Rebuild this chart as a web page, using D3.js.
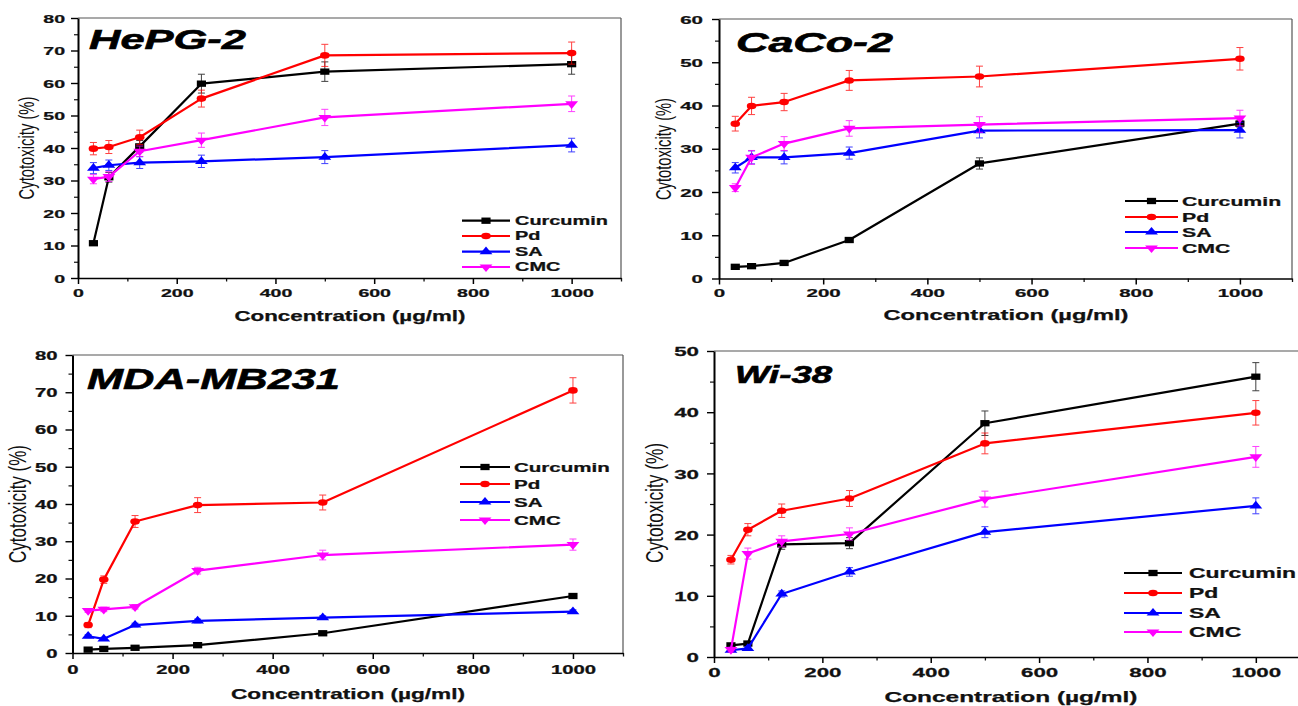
<!DOCTYPE html>
<html><head><meta charset="utf-8">
<script src="https://cdn.jsdelivr.net/npm/d3@7"></script>
<style>html,body{margin:0;padding:0;background:#fff;} svg{display:block;font-family:"Liberation Sans",Arial,sans-serif;}</style>
</head><body><svg id="c" width="1298" height="706"></svg>
<script>
// ---------- DATA ----------
const concentrations = [31.25, 62.5, 125, 250, 500, 1000];
const seriesNames = ["Curcumin", "Pd", "SA", "CMC"];
const panelTitles = ["HePG-2", "CaCo-2", "MDA-MB231", "Wi-38"];
const xTicks = [0, 200, 400, 600, 800, 1000];
const xMinorTicks = [100, 300, 500, 700, 900, 1100];
const yTicks80 = [0, 10, 20, 30, 40, 50, 60, 70, 80];
const yTicks60 = [0, 10, 20, 30, 40, 50, 60];
const yTicks50 = [0, 10, 20, 30, 40, 50];
const xAxisTitle = "Concentration (µg/ml)";
const yAxisTitle = "Cytotoxicity (%)";

// HePG-2
const hepCurcumin = [10.7, 31.0, 40.5, 59.8, 63.5, 65.8];
const hepCurcuminErr = [0.6, 1.5, 1.8, 2.9, 3.0, 3.1];
const hepPd = [39.8, 40.3, 43.3, 55.2, 68.5, 69.2];
const hepPdErr = [1.9, 2.0, 2.2, 2.6, 3.4, 3.4];
const hepSA = [33.8, 34.7, 35.5, 35.9, 37.2, 40.9];
const hepSAErr = [1.7, 1.6, 1.8, 1.9, 2.0, 2.1];
const hepCMC = [30.4, 31.2, 39.0, 42.4, 49.4, 53.6];
const hepCMCErr = [1.4, 1.5, 1.6, 2.2, 2.5, 2.4];

// CaCo-2
const cacoCurcumin = [2.7, 2.85, 3.6, 8.9, 26.6, 35.8];
const cacoCurcuminErr = [0.3, 0.3, 0.4, 0.5, 1.3, 0.8];
const cacoPd = [35.8, 39.9, 40.8, 45.8, 46.7, 50.8];
const cacoPdErr = [1.7, 2.0, 2.0, 2.3, 2.4, 2.6];
const cacoSA = [25.6, 28.0, 28.0, 29.0, 34.2, 34.3];
const cacoSAErr = [1.2, 1.5, 1.5, 1.4, 1.7, 1.8];
const cacoCMC = [21.0, 28.0, 31.2, 34.7, 35.6, 37.1];
const cacoCMCErr = [0.9, 1.6, 1.6, 1.8, 1.8, 1.8];

// MDA-MB231
const mdaCurcumin = [0.9, 1.1, 1.4, 2.1, 5.3, 15.3];
const mdaCurcuminErr = [0.3, 0.3, 0.3, 0.4, 0.4, 0.5];
const mdaPd = [7.5, 19.7, 35.3, 39.7, 40.4, 70.5];
const mdaPdErr = [0.7, 1.0, 1.6, 2.0, 2.0, 3.4];
const mdaSA = [4.5, 3.8, 7.5, 8.6, 9.5, 11.1];
const mdaSAErr = [0.4, 0.4, 0.5, 0.5, 0.5, 0.5];
const mdaCMC = [11.4, 11.7, 12.4, 22.1, 26.3, 29.1];
const mdaCMCErr = [0.5, 0.6, 0.6, 0.9, 1.3, 1.5];

// Wi-38
const wiCurcumin = [1.9, 2.2, 18.4, 18.6, 38.2, 45.8];
const wiCurcuminErr = [0.3, 0.3, 0.8, 0.9, 2.0, 2.3];
const wiPd = [15.9, 20.8, 23.9, 25.9, 34.9, 39.9];
const wiPdErr = [0.7, 1.0, 1.1, 1.3, 1.7, 2.0];
const wiSA = [1.1, 1.4, 10.3, 13.9, 20.4, 24.7];
const wiSAErr = [0.3, 0.3, 0.5, 0.7, 0.9, 1.3];
const wiCMC = [1.2, 16.9, 18.9, 20.1, 25.8, 32.7];
const wiCMCErr = [0.4, 0.9, 0.9, 1.0, 1.3, 1.7];

// ---------- STYLE / LAYOUT ----------
const seriesColors = ["#000000", "#ff0000", "#0000ff", "#ff00ff"];
const symbolTypes = [d3.symbolSquare, d3.symbolCircle, d3.symbolTriangle, d3.symbolTriangle];
const symbolRot = [0, 0, 0, 180];
const symbolSizes = [40, 34, 34, 34];
const MK = 1.45; // horizontal stretch of markers

const panels = [
  {title: panelTitles[0], yTicks: yTicks80, yMax: 80,
   values: [hepCurcumin, hepPd, hepSA, hepCMC], errors: [hepCurcuminErr, hepPdErr, hepSAErr, hepCMCErr]},
  {title: panelTitles[1], yTicks: yTicks60, yMax: 60,
   values: [cacoCurcumin, cacoPd, cacoSA, cacoCMC], errors: [cacoCurcuminErr, cacoPdErr, cacoSAErr, cacoCMCErr]},
  {title: panelTitles[2], yTicks: yTicks80, yMax: 80,
   values: [mdaCurcumin, mdaPd, mdaSA, mdaCMC], errors: [mdaCurcuminErr, mdaPdErr, mdaSAErr, mdaCMCErr]},
  {title: panelTitles[3], yTicks: yTicks50, yMax: 50,
   values: [wiCurcumin, wiPd, wiSA, wiCMC], errors: [wiCurcuminErr, wiPdErr, wiSAErr, wiCMCErr]}
];

const layout = [
  {left:78, right:621, top:18, bottom:278, tickFs:11.5, tickK:1.7, yGap:13, xLabOff:11,
   titleX:89, titleY:49, titleFs:27, titleW:157,
   yTitleX:26, yTitleY:148, yTitleFs:15, yTitleL:103, yTitleK:1.45,
   xTitleX:350, xTitleY:321, xTitleFs:14, xTitleW:231,
   legX0:462, legX1:510, legTextX:515, legY:[220.7,236,251.7,267], legFs:12, legK:1.66},
  {left:719, right:1292, top:19, bottom:278.5, tickFs:11.5, tickK:1.78, yGap:16, xLabOff:10,
   titleX:736, titleY:52, titleFs:27, titleW:157,
   yTitleX:663, yTitleY:149, yTitleFs:15, yTitleL:102, yTitleK:1.45,
   xTitleX:1006, xTitleY:320, xTitleFs:14.5, xTitleW:245,
   legX0:1125, legX1:1178, legTextX:1182, legY:[201,217,232,248], legFs:12.5, legK:1.7},
  {left:72.5, right:623, top:355, bottom:653, tickFs:12, tickK:1.69, yGap:15, xLabOff:12,
   titleX:87, titleY:389, titleFs:30, titleW:253,
   yTitleX:18, yTitleY:504, yTitleFs:17, yTitleL:118, yTitleK:1.4,
   xTitleX:348, xTitleY:699, xTitleFs:14, xTitleW:234,
   legX0:460, legX1:510, legTextX:514, legY:[467,484,502,520], legFs:13, legK:1.58},
  {left:714, right:1310, top:351, bottom:657, tickFs:13, tickK:1.72, yGap:15, xLabOff:11,
   titleX:735, titleY:383, titleFs:23, titleW:97,
   yTitleX:655, yTitleY:503, yTitleFs:17.3, yTitleL:120, yTitleK:1.4,
   xTitleX:1011, xTitleY:701.5, xTitleFs:14.5, xTitleW:253,
   legX0:1124, legX1:1182, legTextX:1189, legY:[573,593,613,632], legFs:15, legK:1.53}
];

const svg = d3.select("#c");

function symbolPath(i) {
  return d3.symbol().type(symbolTypes[i]).size(symbolSizes[i])();
}
function markerTransform(x, y, i) {
  return `translate(${x},${y}) scale(${MK},1) rotate(${symbolRot[i]})`;
}

panels.forEach((p, pi) => {
  const L = layout[pi];
  const g = svg.append("g");
  const x = d3.scaleLinear().domain([0, 1100]).range([L.left, L.right]);
  const y = d3.scaleLinear().domain([0, p.yMax]).range([L.bottom, L.top]);

  // frame (top + right)
  g.append("line").attr("x1", x(0)).attr("x2", x(1100)).attr("y1", y(p.yMax)).attr("y2", y(p.yMax))
    .attr("stroke", "#555").attr("stroke-width", 1.2);
  g.append("line").attr("x1", x(1100)).attr("x2", x(1100)).attr("y1", y(0)).attr("y2", y(p.yMax))
    .attr("stroke", "#555").attr("stroke-width", 1.2);

  // minor ticks
  const yMinor = d3.range(5, p.yMax, 10);
  g.append("g").attr("transform", `translate(0,${L.bottom})`)
    .call(d3.axisBottom(x).tickValues(xMinorTicks).tickSize(3.5).tickFormat(""))
    .call(s => s.select(".domain").remove())
    .call(s => s.selectAll("line").attr("stroke", "#111").attr("stroke-width", 1.3));
  g.append("g").attr("transform", `translate(${L.left},0)`)
    .call(d3.axisLeft(y).tickValues(yMinor).tickSize(4).tickFormat(""))
    .call(s => s.select(".domain").remove())
    .call(s => s.selectAll("line").attr("stroke", "#111").attr("stroke-width", 1.2));

  // x axis
  const gx = g.append("g").attr("transform", `translate(0,${L.bottom})`)
    .call(d3.axisBottom(x).tickValues(xTicks).tickSize(6).tickSizeOuter(0).tickFormat(d3.format("d")));
  gx.select(".domain").attr("stroke", "#000").attr("stroke-width", 1.6);
  gx.selectAll(".tick line").attr("stroke", "#000").attr("stroke-width", 1.5);
  gx.selectAll("text")
    .attr("y", L.xLabOff).attr("dy", "0.71em")
    .attr("transform", `scale(${L.tickK},1)`)
    .attr("font-family", "Liberation Sans, Arial, sans-serif")
    .attr("font-weight", "bold").attr("font-size", L.tickFs).attr("fill", "#111")
    .attr("stroke", "#111").attr("stroke-width", 0.25);

  // y axis
  const gy = g.append("g").attr("transform", `translate(${L.left},0)`)
    .call(d3.axisLeft(y).tickValues(p.yTicks).tickSize(7).tickSizeOuter(0).tickFormat(d3.format("d")));
  gy.select(".domain").attr("stroke", "#000").attr("stroke-width", 2);
  gy.selectAll(".tick line").attr("stroke", "#000").attr("stroke-width", 1.4);
  gy.selectAll("text")
    .attr("x", -L.yGap / L.tickK).attr("dy", "0.36em")
    .attr("transform", `scale(${L.tickK},1)`)
    .attr("font-family", "Liberation Sans, Arial, sans-serif")
    .attr("font-weight", "bold").attr("font-size", L.tickFs).attr("fill", "#111")
    .attr("stroke", "#111").attr("stroke-width", 0.25);

  // series
  p.values.forEach((vals, si) => {
    const color = seriesColors[si];
    const pts = concentrations.map((c, i) => ({c, v: vals[i], e: p.errors[si][i]}));
    // error bars
    const eb = g.append("g").attr("stroke", color).attr("stroke-width", 1).attr("opacity", 0.75);
    pts.forEach(d => {
      const cx = x(d.c), y1 = y(d.v - d.e), y2 = y(d.v + d.e);
      eb.append("line").attr("x1", cx).attr("x2", cx).attr("y1", y1).attr("y2", y2);
      eb.append("line").attr("x1", cx - 3.5).attr("x2", cx + 3.5).attr("y1", y1).attr("y2", y1);
      eb.append("line").attr("x1", cx - 3.5).attr("x2", cx + 3.5).attr("y1", y2).attr("y2", y2);
    });
    // line
    g.append("path").datum(pts)
      .attr("fill", "none").attr("stroke", color).attr("stroke-width", 2.2)
      .attr("stroke-linejoin", "round")
      .attr("d", d3.line().x(d => x(d.c)).y(d => y(d.v)));
    // markers
    g.append("g").selectAll("path").data(pts).join("path")
      .attr("d", symbolPath(si))
      .attr("transform", d => markerTransform(x(d.c), y(d.v), si))
      .attr("fill", color);
  });

  // legend
  seriesNames.forEach((name, si) => {
    const ly = L.legY[si];
    g.append("line").attr("x1", L.legX0).attr("x2", L.legX1).attr("y1", ly).attr("y2", ly)
      .attr("stroke", seriesColors[si]).attr("stroke-width", 2.2);
    g.append("path").attr("d", symbolPath(si))
      .attr("transform", markerTransform((L.legX0 + L.legX1) / 2, ly, si))
      .attr("fill", seriesColors[si]);
    g.append("text").text(name)
      .attr("transform", `translate(${L.legTextX},${ly}) scale(${L.legK},1)`)
      .attr("dy", "0.36em")
      .attr("font-weight", "bold").attr("font-size", L.legFs).attr("fill", "#111")
      .attr("stroke", "#111").attr("stroke-width", 0.25);
  });

  // panel title
  g.append("text").text(p.title)
    .attr("x", L.titleX).attr("y", L.titleY)
    .attr("font-weight", "bold").attr("font-style", "italic")
    .attr("font-size", L.titleFs).attr("fill", "#000")
    .attr("textLength", L.titleW).attr("lengthAdjust", "spacingAndGlyphs")
    .attr("stroke", "#000").attr("stroke-width", 0.6);

  // x axis title
  g.append("text").text(xAxisTitle)
    .attr("x", L.xTitleX - L.xTitleW / 2).attr("y", L.xTitleY)
    .attr("font-weight", "bold").attr("font-size", L.xTitleFs).attr("fill", "#111")
    .attr("stroke", "#111").attr("stroke-width", 0.25)
    .attr("textLength", L.xTitleW).attr("lengthAdjust", "spacingAndGlyphs");

  // y axis title
  g.append("text").text(yAxisTitle)
    .attr("transform", `translate(${L.yTitleX},${L.yTitleY}) scale(${L.yTitleK},1) rotate(-90)`)
    .attr("x", -L.yTitleL / 2).attr("dy", "0.35em")
    .attr("font-size", L.yTitleFs).attr("fill", "#111")
    .attr("textLength", L.yTitleL).attr("lengthAdjust", "spacingAndGlyphs");
});
</script>
</body></html>
